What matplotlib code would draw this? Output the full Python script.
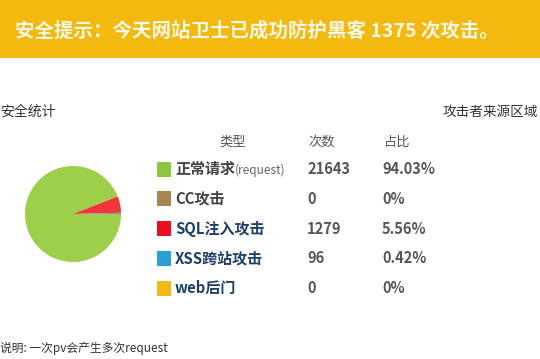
import matplotlib
matplotlib.use("Agg")
import matplotlib.pyplot as plt
from matplotlib.patches import Rectangle

plt.rcParams['font.family'] = ['Noto Sans CJK SC', 'DejaVu Sans']

# data
attack_total = 1375
types = ["正常请求", "CC攻击", "SQL注入攻击", "XSS跨站攻击", "web后门"]
type_suffix = ["(request)", "", "", "", ""]
counts = [21643, 0, 1279, 96, 0]
shares = ["94.03%", "0%", "5.56%", "0.42%", "0%"]
legend_cols = ["#8cc63e", "#a8844f", "#e8101e", "#2a9fd6", "#f0b915"]
pie_cols = ["#9dcf4b", "#a8844f", "#f23636", "#8c8ca0", "#f0b915"]
name_cols = ["#444444", "#444444", "#1d3f6e", "#1d3f6e", "#1d3f6e"]
headers = ["类型", "次数", "占比"]

W, H = 540, 359
fig = plt.figure(figsize=(W/100, H/100), dpi=100)
bg = fig.add_axes([0, 0, 1, 1])
bg.set_xlim(0, W); bg.set_ylim(H, 0); bg.axis("off")

# banner
bg.add_patch(Rectangle((0, 0), W, 58, color="#f4b90f", lw=0))
bg.text(15, 31, f"安全提示：今天网站卫士已成功防护黑客 {attack_total} 次攻击。",
        fontsize=14, fontweight="bold", color="#fff8e6", va="center", ha="left")

# section titles
bg.text(0, 112, "安全统计", fontsize=10, fontweight="medium", color="#333333", va="center", ha="left")
bg.text(538, 112, "攻击者来源区域", fontsize=9.8, fontweight="medium", color="#333333",
        va="center", ha="right")

# table
hx = [233, 322, 397]
for x, h in zip(hx, headers):
    bg.text(x, 142, h, fontsize=9.5, color="#555555", va="center", ha="center")
y0, dy = 169, 29.8
for i, (t, s, c, p) in enumerate(zip(types, type_suffix, counts, shares)):
    y = y0 + i*dy
    bg.add_patch(Rectangle((157, y-7.5), 14, 15, color=legend_cols[i], lw=0))
    bg.text(175, y, t, fontsize=10.8, fontweight="bold", color=name_cols[i], va="center", ha="left")
    if s:
        bg.text(235, y+1, s, fontsize=8.5, color="#666666", va="center", ha="left")
    bg.text(307, y, str(c), fontsize=10.5, fontweight="bold", color="#555555", va="center", ha="left")
    bg.text(382, y, p, fontsize=10.5, fontweight="bold", color="#555555", va="center", ha="left")

bg.text(0, 348, "说明: 一次pv会产生多次request", fontsize=8.5, color="#333333", va="center", ha="left")

# pie
cx, cy, r = 73, 214, 48
pax = fig.add_axes([(cx-r)/W, (H-cy-r)/H, 2*r/W, 2*r/H])
pax.pie(counts, colors=pie_cols, startangle=0, counterclock=False,
        wedgeprops=dict(linewidth=0))
pax.set_xlim(-1, 1); pax.set_ylim(-1, 1)
pax.set_aspect("equal")

fig.savefig("out.png", dpi=100)
